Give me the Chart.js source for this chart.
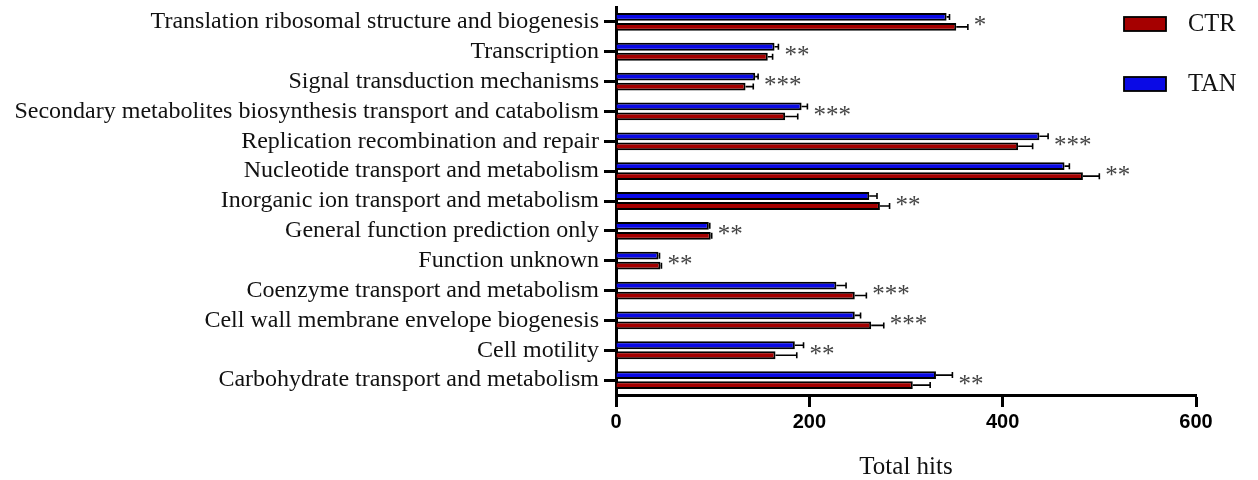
<!DOCTYPE html>
<html>
<head>
<meta charset="utf-8">
<script src="https://cdn.jsdelivr.net/npm/chart.js@4"></script>
<style>
  html, body { margin: 0; padding: 0; background: #fff; }
  #wrap { width: 1258px; height: 480px; position: relative; }
</style>
</head>
<body>
<div id="wrap"><canvas id="cogChart" width="1258" height="480"></canvas></div>
<script>
const categories = [
  "Translation ribosomal structure and biogenesis",
  "Transcription",
  "Signal transduction mechanisms",
  "Secondary metabolites biosynthesis transport and catabolism",
  "Replication recombination and repair",
  "Nucleotide transport and metabolism",
  "Inorganic ion transport and metabolism",
  "General function prediction only",
  "Function unknown",
  "Coenzyme transport and metabolism",
  "Cell wall membrane envelope biogenesis",
  "Cell motility",
  "Carbohydrate transport and metabolism",
];
const tanValues = [342, 164, 144, 192, 438, 464, 262, 96, 44, 228, 247, 185, 331];
const tanErrors = [3, 4, 3, 6, 9, 5, 8, 1, 1, 10, 6, 9, 17];
const ctrValues = [352, 157, 134, 175, 416, 483, 273, 98, 46, 247, 264, 165, 307];
const ctrErrors = [12, 5, 8, 13, 15, 17, 10, 1, 1, 12, 13, 22, 18];
const stars = ["*", "**", "***", "***", "***", "**", "**", "**", "**", "***", "***", "**", "**"];
const xTicks = [0, 200, 400, 600];

const serif = "'Liberation Serif', 'Times New Roman', serif";

// error bars (one-sided) + significance stars
const errorBarPlugin = {
  id: "errorBars",
  afterDatasetsDraw(chart) {
    const ctx = chart.ctx;
    const xScale = chart.scales.x;
    const ends = categories.map(() => 0);
    ctx.save();
    ctx.strokeStyle = "#000";
    ctx.lineWidth = 1.6;
    chart.data.datasets.forEach((ds, di) => {
      const meta = chart.getDatasetMeta(di);
      meta.data.forEach((bar, i) => {
        const x0 = xScale.getPixelForValue(ds.data[i]);
        const x1 = xScale.getPixelForValue(ds.data[i] + ds.errors[i]);
        ctx.beginPath();
        ctx.moveTo(x0, bar.y);
        ctx.lineTo(x1, bar.y);
        ctx.moveTo(x1, bar.y - 3);
        ctx.lineTo(x1, bar.y + 3);
        ctx.stroke();
        ends[i] = Math.max(ends[i], x1);
      });
    });
    ctx.fillStyle = "#444";
    ctx.font = "25px " + serif;
    ctx.textAlign = "left";
    ctx.textBaseline = "middle";
    const yScale = chart.scales.y;
    stars.forEach((s, i) => {
      const y = yScale.getPixelForValue(i);
      ctx.fillText(s, ends[i] + 6, y + 5);
    });
    ctx.restore();
  },
};

// legend drawn at the top right, CTR first
const legendPlugin = {
  id: "sideLegend",
  afterDraw(chart) {
    const ctx = chart.ctx;
    const items = [chart.data.datasets[1], chart.data.datasets[0]];
    ctx.save();
    ctx.font = "24.5px " + serif;
    ctx.textBaseline = "middle";
    ctx.textAlign = "left";
    items.forEach((ds, k) => {
      const y = 24 + k * 60;
      ctx.fillStyle = ds.backgroundColor;
      ctx.fillRect(1124, y - 7, 42, 14);
      ctx.strokeStyle = "#000";
      ctx.lineWidth = 1.8;
      ctx.strokeRect(1124, y - 7, 42, 14);
      ctx.fillStyle = "#111";
      ctx.fillText(ds.label, 1188, y + 1);
    });
    ctx.restore();
  },
};

const data = {
  labels: categories,
  datasets: [
    {
      label: "TAN",
      data: tanValues,
      errors: tanErrors,
      backgroundColor: "#0a0ae6",
      borderColor: "#000",
      borderWidth: 2,
      borderSkipped: "left",
      categoryPercentage: 0.67,
      barPercentage: 0.78,
    },
    {
      label: "CTR",
      data: ctrValues,
      errors: ctrErrors,
      backgroundColor: "#a50000",
      borderColor: "#000",
      borderWidth: 2,
      borderSkipped: "left",
      categoryPercentage: 0.67,
      barPercentage: 0.78,
    },
  ],
};

const config = {
  type: "bar",
  data,
  options: {
    indexAxis: "y",
    responsive: false,
    animation: false,
    layout: { padding: { top: 7, right: 62, bottom: 0, left: 0 } },
    plugins: {
      legend: { display: false },
      tooltip: { enabled: false },
    },
    scales: {
      x: {
        min: 0,
        max: 600,
        afterBuildTicks(scale) {
          scale.ticks = xTicks.map((v) => ({ value: v }));
        },
        afterFit(scale) {
          scale.height = 85;
        },
        grid: {
          drawOnChartArea: false,
          drawTicks: true,
          tickLength: 12,
          tickWidth: 3,
          tickColor: "#000",
        },
        border: { color: "#000", width: 3 },
        ticks: {
          color: "#000",
          font: { family: "'Liberation Sans', Arial, sans-serif", size: 20, weight: "bold" },
          padding: 3,
          maxRotation: 0,
        },
        title: {
          display: true,
          text: "Total hits",
          color: "#111",
          font: { family: serif, size: 25, lineHeight: 1 },
          padding: { top: 20, bottom: 0 },
        },
      },
      y: {
        afterFit(scale) {
          scale.width = 616;
          scale.paddingTop = 0;
          scale.paddingBottom = 0;
        },
        grid: {
          offset: false,
          drawOnChartArea: false,
          drawTicks: true,
          tickLength: 12,
          tickWidth: 3,
          tickColor: "#000",
        },
        border: { color: "#000", width: 3 },
        ticks: {
          color: "#111",
          font: { family: serif, size: 24, lineHeight: 1 },
          padding: 5,
          autoSkip: false,
        },
      },
    },
  },
  plugins: [errorBarPlugin, legendPlugin],
};

const ctx = document.getElementById("cogChart").getContext("2d");
const chart = new Chart(ctx, config);
</script>
</body>
</html>
